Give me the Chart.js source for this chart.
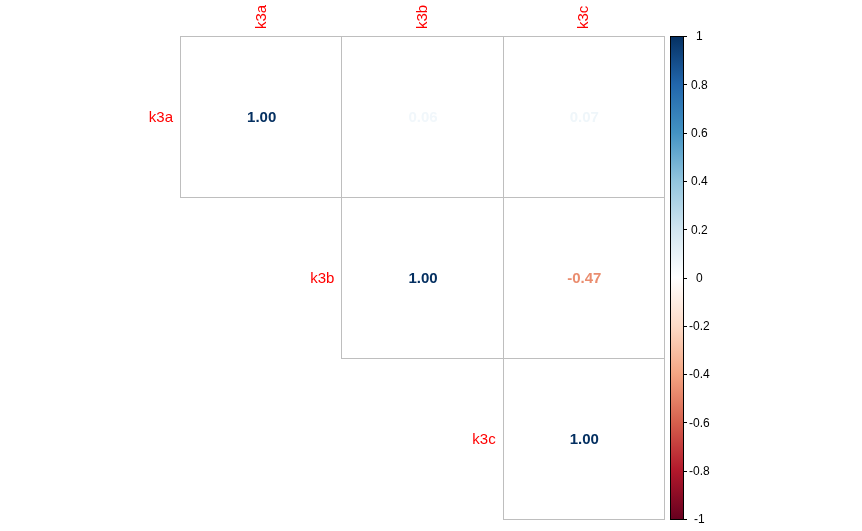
<!DOCTYPE html>
<html>
<head>
<meta charset="utf-8">
<script src="https://cdn.jsdelivr.net/npm/chart.js@4"></script>
<style>
html,body{margin:0;padding:0;background:#fff;}
#wrap{width:862px;height:531px;}
</style>
</head>
<body>
<div id="wrap"><canvas id="c" width="862" height="531"></canvas></div>
<script>
// ---- data ----
const variables = ['k3a', 'k3b', 'k3c'];
const rowK3a = [1.00, 0.06, 0.07];
const rowK3b = [null, 1.00, -0.47];
const rowK3c = [null, null, 1.00];
const colorbarTicks = [-1, -0.8, -0.6, -0.4, -0.2, 0, 0.2, 0.4, 0.6, 0.8, 1];
const paletteColors = ['#67001F', '#B2182B', '#D6604D', '#F4A582', '#FDDBC7', '#FFFFFF',
                       '#D1E5F0', '#92C5DE', '#4393C3', '#2166AC', '#053061'];

const rows = [rowK3a, rowK3b, rowK3c];
const cells = [];
rows.forEach((r, i) => r.forEach((v, j) => {
  if (v !== null) cells.push({ x: variables[j], y: i, v: v });
}));

function hexToRgb(h) {
  return [parseInt(h.slice(1, 3), 16), parseInt(h.slice(3, 5), 16), parseInt(h.slice(5, 7), 16)];
}
const palRgb = paletteColors.map(hexToRgb);
function colorFor(v) {
  const t = Math.max(0, Math.min(1, (v + 1) / 2)) * (palRgb.length - 1);
  const i = Math.min(palRgb.length - 2, Math.floor(t));
  const f = t - i;
  const a = palRgb[i], b = palRgb[i + 1];
  const c = a.map((x, k) => Math.round(x + (b[k] - x) * f));
  return 'rgb(' + c.join(',') + ')';
}

const FONT = '"Liberation Sans", Arial, sans-serif';

const corrPlugin = {
  id: 'corrPlugin',
  afterDatasetsDraw(chart) {
    const ctx = chart.ctx;
    const xs = chart.scales.x, ys = chart.scales.y, cb = chart.scales.cb;
    const cw = xs.getPixelForValue(1) - xs.getPixelForValue(0);
    const ch = ys.getPixelForValue(1) - ys.getPixelForValue(0);
    ctx.save();
    // cells
    const data = chart.data.datasets[0].data;
    data.forEach(d => {
      const cx = xs.getPixelForValue(variables.indexOf(d.x));
      const cy = ys.getPixelForValue(d.y);
      const l = Math.round(cx - cw / 2), t = Math.round(cy - ch / 2);
      const r = Math.round(cx + cw / 2), b = Math.round(cy + ch / 2);
      ctx.fillStyle = '#FFFFFF';
      ctx.fillRect(l, t, r - l, b - t);
      ctx.strokeStyle = '#BEBEBE';
      ctx.lineWidth = 1;
      ctx.strokeRect(l + 0.5, t + 0.5, r - l, b - t);
    });
    data.forEach(d => {
      const cx = xs.getPixelForValue(variables.indexOf(d.x));
      const cy = ys.getPixelForValue(d.y);
      ctx.fillStyle = colorFor(d.v);
      ctx.font = 'bold 15px ' + FONT;
      ctx.textAlign = 'center';
      ctx.textBaseline = 'middle';
      ctx.fillText(d.v.toFixed(2), cx + 1, cy + 1);
    });
    // diagonal row labels
    variables.forEach((name, i) => {
      const cx = xs.getPixelForValue(i);
      const cy = ys.getPixelForValue(i);
      ctx.fillStyle = '#FF0000';
      ctx.font = '15px ' + FONT;
      ctx.textAlign = 'right';
      ctx.textBaseline = 'middle';
      ctx.fillText(name, cx - cw / 2 - 7, cy + 1);
    });
    // top column labels (rotated)
    variables.forEach((name, j) => {
      const cx = xs.getPixelForValue(j);
      ctx.save();
      ctx.translate(cx + 1, xs.bottom - 7);
      ctx.rotate(-Math.PI / 2);
      ctx.fillStyle = '#FF0000';
      ctx.font = '15px ' + FONT;
      ctx.textAlign = 'left';
      ctx.textBaseline = 'middle';
      ctx.fillText(name, 0, 0);
      ctx.restore();
    });
    // colorbar
    const top = Math.round(cb.getPixelForValue(1)), bot = Math.round(cb.getPixelForValue(-1));
    const bl = 670, br = 684;
    const g = ctx.createLinearGradient(0, bot, 0, top);
    paletteColors.forEach((c, k) => g.addColorStop(k / (paletteColors.length - 1), c));
    ctx.fillStyle = g;
    ctx.fillRect(bl, top, br - bl, bot - top);
    ctx.strokeStyle = '#000';
    ctx.lineWidth = 1;
    ctx.strokeRect(bl + 0.5, top + 0.5, br - bl - 1, bot - top);
    colorbarTicks.forEach(v => {
      const y = Math.round(cb.getPixelForValue(v)) + 0.5;
      ctx.beginPath();
      ctx.moveTo(br, y);
      ctx.lineTo(br + 3, y);
      ctx.stroke();
    });
    ctx.restore();
  }
};

new Chart(document.getElementById('c'), {
  type: 'scatter',
  data: {
    datasets: [{
      data: cells,
      pointRadius: 0,
      pointHoverRadius: 0
    }]
  },
  options: {
    responsive: false,
    animation: false,
    devicePixelRatio: 1,
    layout: { padding: { left: 180, right: 0, top: 0, bottom: 12 } },
    plugins: { legend: { display: false }, tooltip: { enabled: false } },
    scales: {
      x: {
        type: 'category',
        labels: variables,
        position: 'top',
        offset: true,
        grid: { display: false },
        border: { display: false },
        ticks: { display: false },
        afterFit: s => { s.height = 36; s.paddingLeft = 0; s.paddingRight = 0; }
      },
      y: {
        type: 'linear',
        display: false,
        min: -0.5,
        max: 2.5,
        reverse: true
      },
      cb: {
        type: 'linear',
        position: 'right',
        min: -1,
        max: 1,
        grid: { display: false, drawTicks: false },
        border: { display: false },
        ticks: {
          stepSize: 0.2,
          color: '#000000',
          crossAlign: 'center',
          padding: 25,
          labelOffset: 1,
          font: { family: FONT, size: 12 },
          callback: v => String(Math.round(v * 10) / 10)
        },
        afterBuildTicks: s => { s.ticks = colorbarTicks.map(v => ({ value: v })); },
        afterFit: s => { s.width = 198; s.paddingTop = 0; s.paddingBottom = 0; }
      }
    }
  },
  plugins: [corrPlugin]
});
</script>
</body>
</html>
